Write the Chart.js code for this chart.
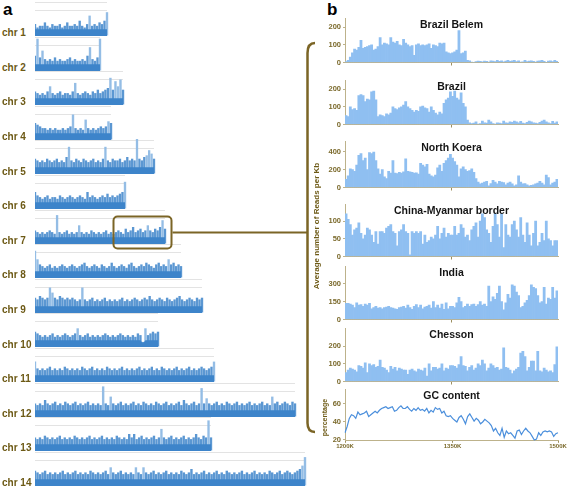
<!DOCTYPE html>
<html>
<head>
<meta charset="utf-8">
<script src="https://cdn.jsdelivr.net/npm/chart.js@4.4.1/dist/chart.umd.min.js"></script>
<style>
  body { margin: 0; background: #fff; }
  #page { position: relative; width: 567px; height: 489px; overflow: hidden; font-family: "Liberation Sans", Arial, sans-serif; }
  #page canvas { position: absolute; }
  .lbl { position: absolute; white-space: nowrap; font-weight: bold; line-height: 1; }
  .chr { font-size: 10px; color: #6d5a16; }
  .panel { font-size: 17px; color: #000; }
  .rot { position: absolute; white-space: nowrap; font-weight: bold; line-height: 1; color: #6d5a16; text-align: center; transform: rotate(-90deg); }
  svg { position: absolute; left: 0; top: 0; }
</style>
</head>
<body>
<div id="page"></div>
<script>
// panel a: read depth along each chromosome (relative units, 20 = top grid line)
const chr1 = [7,5,6,6,8,6,5,7,6,6,7,5,6,8,6,6,7,6,9,6,5,7,12,6,7,6,8,7,9,14];
const chr2 = [9,19,8,12,7,6,7,6,8,6,7,6,6,7,8,6,7,6,6,7,6,9,14,7,6,8,19];
const chr3 = [8,7,6,7,6,8,11,7,6,7,8,6,7,7,6,8,13,7,6,7,8,7,6,8,7,9,7,8,9,10,16,9,14,11,15,9];
const chr4 = [10,9,8,7,7,6,7,6,7,6,6,7,6,7,8,15,7,6,7,6,12,7,6,7,6,7,8,7,8,11,10];
const chr5 = [9,8,7,8,7,9,8,7,8,9,7,8,7,10,16,8,7,9,8,7,9,8,7,8,9,7,8,7,9,16,8,7,9,8,8,9,7,8,10,8,9,8,25,9,8,10,11,14,12,9];
const chr6 = [10,8,7,6,7,8,6,7,7,6,8,7,6,7,8,7,6,7,8,7,6,10,7,8,7,6,7,8,7,9,7,8,7,8,9,10,16];
const chr7 = [8,7,6,7,6,7,8,7,6,17,7,6,7,8,6,7,6,7,11,7,6,7,6,8,7,6,7,6,7,8,6,7,6,7,8,7,6,9,7,8,10,7,8,9,7,8,11,8,7,9,8,10,14,9];
const chr8 = [16,11,8,7,6,7,8,6,7,6,7,8,7,6,7,8,7,6,7,8,9,7,6,7,8,7,6,8,7,6,7,9,7,6,7,8,7,6,8,9,7,6,7,8,7,9,8,7,6,8,9,7,8,7,11,8,9,7,8,7];
const chr9 = [9,8,10,9,8,9,15,12,9,8,10,9,8,9,8,9,8,7,8,15,8,7,8,9,7,8,7,8,9,7,8,7,8,7,8,9,7,8,7,8,9,8,7,8,9,8,10,8,7,8,9,8,7,9,8,7,8,9,10,8,7,8,9,8,7,9,8,9];
const chr10 = [9,8,7,6,7,6,7,8,6,7,6,7,8,7,6,7,8,11,7,6,7,8,6,7,6,7,6,7,8,7,6,7,6,7,8,7,6,7,6,7,6,8,7,3,11,7,8,9,8,9];
const chr11 = [12,8,7,8,7,8,9,7,8,7,8,7,9,8,7,8,7,8,7,9,8,7,8,9,7,8,7,8,7,9,8,7,8,7,8,9,7,8,7,8,7,8,9,7,8,7,8,9,7,8,7,9,8,7,8,7,8,9,7,8,7,8,9,7,8,7,8,9,8,7,8,9,12];
const chr12 = [8,7,8,7,10,8,7,8,9,7, 8,7,9,8,7,8,9,7,8,7, 8,9,7,8,7,8,7,18,8,7, 12,8,7,8,9,7,8,7,8,9,
  7,8,7,9,8,7,8,7,9,8, 7,8,9,7,8,7,8,9,7,10, 8,7,8,9,7,8,17,8,11,8, 7,8,9,7,8,7,9,8,7,8,
  9,7,8,7,8,9,7,8,7,8, 9,7,8,7,12,8,9,7,8,9, 8,7,9,8];
const chr13 = [8,7,8,7,9,8,7,8,7,8,9,7,8,7,8,7,9,8,7,8,7,8,9,7,8,7,8,9,7,8,7,8,7,9,8,7,8,7,10,8,10,7,8,9,7,8,7,8,9,7,8,13,8,7,8,9,7,8,7,8,9,7,8,7,8,10,8,7,9,8,18,8];
const chr14 = [9,8,7,8,9,7,8,7,8,7, 8,9,7,8,7,8,9,7,8,7, 8,7,9,8,7,8,7,8,9,7, 11,8,7,8,9,7,8,7,8,7,
  11,8,7,11,8,7,8,9,7,8, 7,8,9,7,8,7,8,7,9,8, 7,8,10,7,8,7,8,9,7,8, 7,8,9,7,8,7,9,8,7,8,
  7,8,9,7,8,7,8,9,7,8, 7,8,7,9,8,7,8,9,7,8, 9,8,7,8,9,10,12,17];
const chrNames = ['chr 1','chr 2','chr 3','chr 4','chr 5','chr 6','chr 7','chr 8','chr 9','chr 10','chr 11','chr 12','chr 13','chr 14'];
const chrTracks = [chr1,chr2,chr3,chr4,chr5,chr6,chr7,chr8,chr9,chr10,chr11,chr12,chr13,chr14];

// panel b: 3 kb bins from 1200K to 1500K on chr 7
const binStart = [];
for (let i = 0; i < 100; i++) binStart.push(1200 + i * 3);
const xTickLabels = { 0: '1200K', 50: '1350K', 99: '1500K' };

const brazilBelem = [5,12,30,55,75,70,85,125,80,85, 90,95,100,70,75,90,140,100,110,105,
  100,140,115,110,120,100,95,130,110,100, 90,95,40,100,105,95,100,95,100,105,
  80,100,95,90,110,105,110,60,55,50, 55,60,70,180,50,55,65,12,10,3,
  0,5,8,6,4,8,6,3,10,8, 5,12,6,10,4,8,12,6,10,12,
  5,10,3,4,12,5,8,10,6,3, 8,10,12,6,0,8,10,5,12,6];
const brazil = [50,45,100,85,90,80,165,170,165,130, 145,140,185,190,140,45,55,50,45,60,
  55,65,100,90,85,95,100,110,130,100, 90,80,70,80,75,100,105,95,90,70,
  100,80,65,55,70,60,120,140,150,185, 160,190,150,140,180,120,100,25,10,5,
  8,15,3,5,20,10,8,25,15,5, 3,10,8,5,20,10,8,15,12,20,
  15,10,18,8,5,12,20,15,10,8, 5,12,20,25,15,10,5,18,8,15];
const northKorea = [90,130,210,200,180,250,360,380,300,330, 200,390,380,395,300,210,150,200,120,100,
  180,160,300,160,155,170,160,175,320,180, 175,170,160,165,150,270,250,230,260,150,
  130,120,140,220,250,180,270,300,330,370, 330,290,250,120,210,230,200,180,190,210,
  170,100,60,40,50,60,70,20,45,80, 60,40,70,60,55,30,50,60,40,20,
  30,130,60,40,45,30,20,25,30,40, 50,70,50,30,140,110,30,50,60,90];
const chinaMyanmar = [120,105,90,60,75,80,95,65,50,60, 80,75,60,40,70,35,70,70,65,80,
  85,90,70,65,30,70,75,90,70,65, 5,70,65,70,65,70,35,60,40,45,
  55,50,60,85,50,65,80,55,65,60, 60,85,60,65,90,80,55,60,45,75,
  85,95,55,100,120,110,75,65,40,85, 120,90,55,120,25,90,60,55,90,100,
  75,55,110,60,40,95,60,30,65,100, 30,40,65,45,100,50,45,30,45,45];
const india = [135,135,130,120,100,140,120,125,110,130, 120,135,90,100,110,95,100,90,100,105,
  110,100,95,90,85,100,105,110,95,120, 100,85,110,125,100,120,90,105,110,120,
  95,150,100,120,95,130,85,140,90,110, 110,100,140,185,150,100,110,130,110,125,
  130,110,125,150,120,130,110,280,150,190, 170,220,280,150,80,140,210,180,290,280,
  230,200,100,110,140,160,200,290,270,260, 200,140,150,270,130,180,170,270,180,240];
const chesson = [50,65,75,70,65,55,90,85,75,105, 50,100,90,95,80,85,120,80,75,65,
  50,85,70,80,60,75,70,65,65,40, 65,70,60,55,70,65,60,75,30,100,
  60,80,80,70,75,100,60,75,70,90, 90,85,75,95,140,90,85,60,80,90,
  65,75,100,90,120,100,60,75,100,90, 75,80,65,70,190,80,75,65,45,60,
  70,80,160,170,140,60,80,115,115,60, 170,60,55,75,65,55,60,50,95,195];
const gcContent = [28,35,44,48,47,44,51,48,49,50, 52,46,48,50,52,50,53,55,56,57,
  55,56,57,52,53,56,58,55,55,57, 54,52,55,53,56,53,54,52,55,50,
  53,51,56,54,55,50,52,47,46,47, 44,42,40,45,47,43,38,46,49,45,
  41,44,42,38,40,43,41,39,36,30, 33,28,25,33,23,30,27,28,25,22,
  30,31,26,30,33,30,28,24,20,21, 28,25,29,30,29,30,29,24,27,28];

// layout (canvas top / height in px; chart area sits 6.5px inside because of tick label padding)
const chrWidth = [72,65,88,76,119,90,130,146,167,123,179,260,176,270];
const panels = [
  { title: 'Brazil Belem', values: brazilBelem, ticks: [0,100,200], max: 248, top: 12, height: 57 },
  { title: 'Brazil', values: brazil, ticks: [0,100,200], max: 250, top: 74, height: 57 },
  { title: 'North Koera', values: northKorea, ticks: [0,200,400], max: 514, top: 135, height: 59 },
  { title: 'China-Myanmar border', values: chinaMyanmar, ticks: [0,50,100], max: 146.5, top: 198, height: 65 },
  { title: 'India', values: india, ticks: [0,150,300], max: 444, top: 260, height: 66 },
  { title: 'Chesson', values: chesson, ticks: [0,100,200], max: 298.6, top: 322, height: 66 },
];

const AXIS = '#bdb28b';
const FONT = '"Liberation Sans", Arial, sans-serif';
Chart.defaults.font.family = FONT;
Chart.defaults.animation = false;

const page = document.getElementById('page');

function addCanvas(left, top, w, h) {
  const c = document.createElement('canvas');
  c.width = w;
  c.height = h;
  c.style.left = left + 'px';
  c.style.top = top + 'px';
  c.style.width = w + 'px';
  c.style.height = h + 'px';
  page.appendChild(c);
  return c;
}

function addLabel(text, cls, left, top) {
  const d = document.createElement('div');
  d.className = 'lbl ' + cls;
  d.textContent = text;
  d.style.left = left + 'px';
  d.style.top = top + 'px';
  page.appendChild(d);
}

function addRotated(text, cx, cy, size) {
  const w = 200;
  const d = document.createElement('div');
  d.className = 'rot';
  d.textContent = text;
  d.style.fontSize = size + 'px';
  d.style.width = w + 'px';
  d.style.left = (cx - w / 2) + 'px';
  d.style.top = (cy - size / 2) + 'px';
  page.appendChild(d);
}

addLabel('a', 'panel', 3, 1);
addLabel('b', 'panel', 327, 1);

chrTracks.forEach((vals, i) => {
  const bottom = 36 + i * 34.6;
  addLabel(chrNames[i], 'chr', 2, bottom - 3 - 4.9);
  const c = addCanvas(35, Math.round(bottom - 35), chrWidth[i] + 3, 36);
  new Chart(c, {
    type: 'bar',
    data: {
      labels: vals.map((_, k) => k),
      datasets: [{
        type: 'line',
        data: vals.map((v) => Math.min(v, 5) - 1),
        fill: 'origin',
        backgroundColor: '#3d84ca',
        borderWidth: 0,
        pointRadius: 0,
        tension: 0,
        order: 0,
      }, {
        data: vals,
        backgroundColor: (ctx) => (ctx.raw >= 11 ? '#94bde5' : '#5b97d2'),
        borderWidth: 0,
        barPercentage: 0.95,
        categoryPercentage: 1,
        clip: false,
        order: 1,
      }],
    },
    options: {
      responsive: false,
      layout: { padding: { top: 1, bottom: 1, left: 0, right: 3 } },
      plugins: { legend: { display: false }, tooltip: { enabled: false } },
      scales: {
        x: { display: false, offset: false },
        y: {
          min: 0,
          max: 20,
          afterBuildTicks: (ax) => { ax.ticks = [0, 15, 20].map((v) => ({ value: v })); },
          ticks: { display: false },
          border: { display: false },
          grid: {
            drawTicks: false,
            color: (ctx) => (ctx.tick && ctx.tick.value === 0 ? 'rgba(0,0,0,0)' : '#e3e3e3'),
          },
        },
      },
    },
  });
});

const titlePlugin = {
  id: 'panelTitle',
  afterDatasetsDraw(chart, args, opts) {
    const { ctx, chartArea } = chart;
    ctx.save();
    ctx.font = 'bold 10.5px ' + FONT;
    ctx.fillStyle = '#151515';
    ctx.textAlign = 'center';
    ctx.textBaseline = 'middle';
    ctx.fillText(opts.text, (chartArea.left + chartArea.right) / 2, chartArea.top + opts.dy);
    ctx.restore();
  },
};

function yAxis(min, max, ticks) {
  return {
    min: min,
    max: max,
    afterBuildTicks: (ax) => { ax.ticks = ticks.map((v) => ({ value: v })); },
    afterFit: (s) => { s.width = 35; },
    ticks: { color: '#7b6a2c', font: { size: 7.5, weight: 'bold', lineHeight: 1.2 }, padding: 2 },
    border: { display: true, color: AXIS, width: 1 },
    grid: { drawOnChartArea: false, drawTicks: true, tickLength: 2, color: AXIS },
  };
}

panels.forEach((p) => {
  const c = addCanvas(310, p.top, 250, p.height);
  new Chart(c, {
    type: 'bar',
    data: {
      labels: binStart,
      datasets: [{
        data: p.values,
        backgroundColor: '#8fbff1',
        borderWidth: 0,
        barPercentage: 1,
        categoryPercentage: 1,
      }],
    },
    options: {
      responsive: false,
      layout: { padding: { top: 0, bottom: 0, left: 0, right: 2 } },
      plugins: {
        legend: { display: false },
        tooltip: { enabled: false },
        panelTitle: { text: p.title, dy: 7 },
      },
      scales: {
        x: {
          ticks: { display: false },
          border: { display: true, color: AXIS, width: 1 },
          grid: {
            drawOnChartArea: false,
            drawTicks: true,
            tickLength: 3,
            tickColor: (ctx) => (ctx.index === 50 ? '#9d8f5f' : 'rgba(0,0,0,0)'),
          },
        },
        y: yAxis(0, p.max, p.ticks),
      },
    },
    plugins: [titlePlugin],
  });
});

const gcCanvas = addCanvas(310, 383, 257, 67);
new Chart(gcCanvas, {
  type: 'line',
  data: {
    labels: binStart,
    datasets: [{
      data: gcContent,
      borderColor: '#4b8fdc',
      borderWidth: 1.2,
      pointRadius: 0,
      tension: 0,
      fill: false,
    }],
  },
  options: {
    responsive: false,
    layout: { padding: { top: 0, bottom: 0, left: 0, right: 9 } },
    plugins: {
      legend: { display: false },
      tooltip: { enabled: false },
      panelTitle: { text: 'GC content', dy: 7 },
    },
    scales: {
      x: {
        ticks: {
          autoSkip: false,
          maxRotation: 0,
          minRotation: 0,
          padding: 0,
          color: '#7b6a2c',
          font: { size: 6, weight: 'bold' },
          callback: (v, i) => xTickLabels[i] || '',
        },
        border: { display: true, color: AXIS, width: 1 },
        grid: {
          drawOnChartArea: false,
          drawTicks: true,
          tickLength: 2,
          tickColor: (ctx) => (xTickLabels[ctx.index] ? '#9d8f5f' : 'rgba(0,0,0,0)'),
        },
      },
      y: yAxis(19.1, 76.1, [20, 40, 60]),
    },
  },
  plugins: [titlePlugin],
});

addRotated('Average number of Reads per Kb', 316.5, 226, 8);
addRotated('percentage', 323.7, 417.5, 7);

const svgNS = 'http://www.w3.org/2000/svg';
const svg = document.createElementNS(svgNS, 'svg');
svg.setAttribute('width', 567);
svg.setAttribute('height', 489);
svg.innerHTML =
  '<rect x="113.5" y="216.5" width="58" height="32" rx="4" fill="none" stroke="#7b6526" stroke-width="2"/>' +
  '<path d="M172.5 232.5 L307.5 232.5" stroke="#7b6526" stroke-width="2" fill="none"/>' +
  '<path d="M315 43 Q307.5 43 307.5 53 L307.5 423 Q307.5 432 315 432" stroke="#7b6526" stroke-width="2.5" fill="none"/>';
page.appendChild(svg);
</script>
</body>
</html>
